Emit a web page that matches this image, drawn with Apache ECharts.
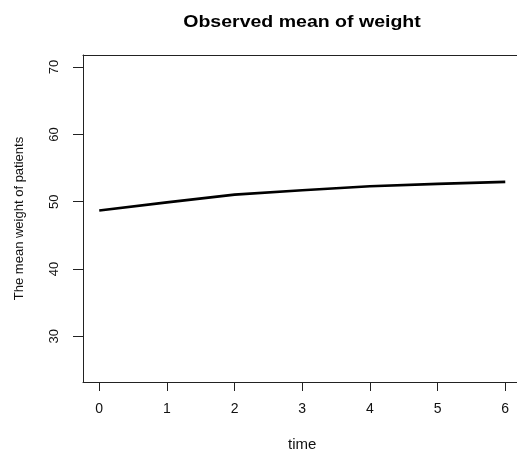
<!DOCTYPE html>
<html>
<head>
<meta charset="utf-8">
<script src="https://cdn.jsdelivr.net/npm/echarts@6/dist/echarts.min.js"></script>
<style>
html,body{margin:0;padding:0;background:#fff;overflow:hidden;}
#chart{width:517px;height:451px;}
</style>
</head>
<body>
<div id="chart"></div>
<script>
var timePoints = [0, 1, 2, 3, 4, 5, 6];
var meanWeight = [48.7, 49.9, 51.05, 51.7, 52.3, 52.65, 52.95];
var xTicks = [0, 1, 2, 3, 4, 5, 6];
var yTicks = [30, 40, 50, 60, 70];

var chart = echarts.init(document.getElementById('chart'), null, {renderer: 'canvas'});
var font = '"Liberation Sans", Arial, sans-serif';
var axisColor = '#222';
chart.setOption({
  animation: false,
  backgroundColor: '#ffffff',
  graphic: [{
    type: 'text',
    x: 302,
    y: 23,
    scaleX: 1.22,
    style: {
      text: 'Observed mean of weight',
      font: 'bold 16px "Liberation Sans", Arial, sans-serif',
      fill: '#000',
      align: 'center',
      verticalAlign: 'middle'
    }
  }],
  grid: {
    left: 83, top: 55, right: -4.5, bottom: 69,
    outerBoundsMode: 'none',
    containLabel: false,
    show: false
  },
  xAxis: [{
    type: 'value',
    min: -0.24, max: 6.24,
    position: 'bottom',
    name: 'time',
    nameLocation: 'middle',
    nameGap: 55,
    nameTextStyle: {fontFamily: font, fontSize: 15, color: '#111'},
    axisLine: {show: true, onZero: false, lineStyle: {color: axisColor, width: 1}},
    splitLine: {show: false},
    axisTick: {show: true, length: 9, customValues: xTicks, lineStyle: {color: axisColor}},
    axisLabel: {customValues: xTicks, margin: 20, fontFamily: font, fontSize: 14, color: '#111'}
  }, {
    type: 'value',
    min: -0.24, max: 6.24,
    position: 'top',
    axisLine: {show: true, onZero: false, lineStyle: {color: axisColor, width: 1}},
    splitLine: {show: false},
    axisTick: {show: false},
    axisLabel: {show: false}
  }],
  yAxis: {
    type: 'value',
    min: 23.2, max: 71.8,
    position: 'left',
    name: 'The mean weight of patients',
    nameLocation: 'middle',
    nameRotate: 90,
    nameGap: 57,
    nameTextStyle: {fontFamily: font, fontSize: 13, color: '#111'},
    axisLine: {show: true, onZero: false, lineStyle: {color: axisColor, width: 1}},
    splitLine: {show: false},
    axisTick: {show: true, length: 10, customValues: yTicks, lineStyle: {color: axisColor}},
    axisLabel: {customValues: yTicks, rotate: 90, margin: 22, fontFamily: font, fontSize: 13, color: '#111'}
  },
  series: [{
    type: 'line',
    xAxisIndex: 0,
    data: timePoints.map(function (t, i) { return [t, meanWeight[i]]; }),
    symbol: 'none',
    smooth: false,
    lineStyle: {color: '#000', width: 2.6},
    clip: false
  }]
});
</script>
</body>
</html>
